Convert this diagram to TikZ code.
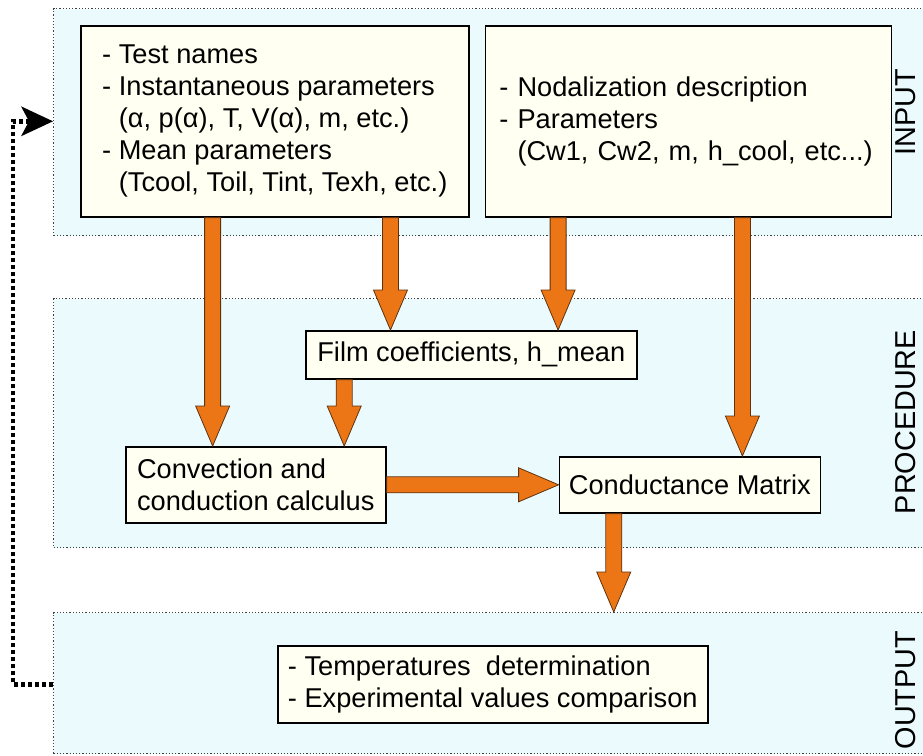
\documentclass[tikz,border=0pt]{standalone}
\usepackage{fontspec}
\setmainfont{Liberation Sans}
\usetikzlibrary{positioning,calc,arrows.meta}

\definecolor{panelfill}{RGB}{235,251,253}
\definecolor{boxfill}{RGB}{255,255,242}
\definecolor{arrowfill}{RGB}{236,118,22}
\definecolor{arrowline}{RGB}{95,50,15}

\tikzset{
  panel/.style={draw=black!75, densely dotted, line width=0.6pt, fill=panelfill,
                anchor=north west, minimum width=445pt, inner sep=0pt},
  block/.style={draw=black, line width=0.8pt, fill=boxfill, inner sep=0pt, align=left},
  stage/.style={rotate=90, font=\fontsize{14.4}{16}\selectfont},
  % thick orange arrow drawn as an outlined polygon from start to target
  fatarrow/.style={fill=arrowfill, draw=arrowline, line width=0.4pt, solid,
    to path={($(\tikztostart)!4pt!90:(\tikztotarget)$)
      -- ($(\tikztotarget)!20pt!(\tikztostart)!4pt!90:(\tikztotarget)$)
      -- ($(\tikztotarget)!20pt!(\tikztostart)!8.5pt!90:(\tikztotarget)$)
      -- (\tikztotarget)
      -- ($(\tikztotarget)!20pt!(\tikztostart)!8.5pt!-90:(\tikztotarget)$)
      -- ($(\tikztotarget)!20pt!(\tikztostart)!4pt!-90:(\tikztotarget)$)
      -- ($(\tikztostart)!4pt!-90:(\tikztotarget)$) -- cycle}},
  feedback/.style={draw=black, line width=2.2pt, dash pattern=on 2pt off 1.5pt,
                   -{Stealth[length=16pt, width=15pt, inset=4pt, line width=0pt]}}
}

\begin{document}
\begin{tikzpicture}[font=\fontsize{13.6}{16}\selectfont]
  \useasboundingbox (0,0) rectangle (461.5pt,-378pt);

  % the three stages
  \node[panel, minimum height=113.5pt] (inpanel)   at (26.5pt,-4pt)   {};
  \node[panel, minimum height=124.5pt] (procpanel) at (26.5pt,-149pt) {};
  \node[panel, minimum height=70.5pt]  (outpanel)  at (26.5pt,-306pt) {};

  \node[stage] (inlabel)   at (453pt,-56pt)  {INPUT};
  \node[stage] (proclabel) at (453pt,-211pt) {PROCEDURE};
  \node[stage] (outlabel)  at (453pt,-345pt) {OUTPUT};

  % input
  \node[block, minimum width=194pt, minimum height=95.5pt]
        (inleft) [below right = 8.5pt and 13.5pt of inpanel.north west]
        {- Test names\\
         - Instantaneous parameters\\
         \phantom{- }(α, p(α), T, V(α), m, etc.)\\
         - Mean parameters\\
         \phantom{- }(Tcool, Toil, Tint, Texh, etc.)};
  \node[block, minimum height=95.5pt, text width=189pt, inner xsep=7pt]
        (inright) [right = 7.5pt of inleft]
        {- Nodalization description\\
         - Parameters\\
         \phantom{- }(Cw1, Cw2, m, h\_cool, etc...)};

  % procedure
  \node[block, minimum width=165.5pt, minimum height=24pt]
        (film) [below right = 16pt and 126pt of procpanel.north west]
        {Film coefficients, h\_mean};
  \node[block, minimum width=130pt, minimum height=38pt]
        (conv) [below right = 74pt and 36pt of procpanel.north west]
        {Convection and\\ conduction calculus};
  \node[block, minimum width=130.5pt, minimum height=28pt]
        (cond) [right = 86pt of conv] {Conductance Matrix};

  % output
  \node[block, minimum width=215pt, minimum height=38.5pt]
        (outbox) [below right = 16.5pt and 112pt of outpanel.north west]
        {- Temperatures\ \ determination\\
         - Experimental values comparison};

  % arrow ends
  \coordinate (a1) at ($(conv.north west)!0.335!(conv.north east)$);
  \coordinate (a2) at ($(film.north west)!0.257!(film.north east)$);
  \coordinate (a3) at ($(film.north west)!0.761!(film.north east)$);
  \coordinate (a4) at ($(cond.north west)!0.70!(cond.north east)$);
  \coordinate (a5) at ($(conv.north west)!0.838!(conv.north east)$);
  \coordinate (a7) at ($(cond.south west)!0.21!(cond.south east)$);
  \coordinate (loop) at (6.5pt,0);

  \draw[fatarrow] (inleft.south -| a1) to (a1);
  \draw[fatarrow] (inleft.south -| a2) to (a2);
  \draw[fatarrow] (inright.south -| a3) to (a3);
  \draw[fatarrow] (inright.south -| a4) to (a4);
  \draw[fatarrow] (film.south -| a5) to (a5);
  \draw[fatarrow] (conv.east) to (conv.east -| cond.west);
  \draw[fatarrow] (a7) to (outpanel.north -| a7);

  % back to the input
  \draw[feedback] (outbox -| outpanel.west) -- (outbox -| loop)
        -- (loop |- inleft) -- (inleft -| inpanel.west);

\end{tikzpicture}
\end{document}
